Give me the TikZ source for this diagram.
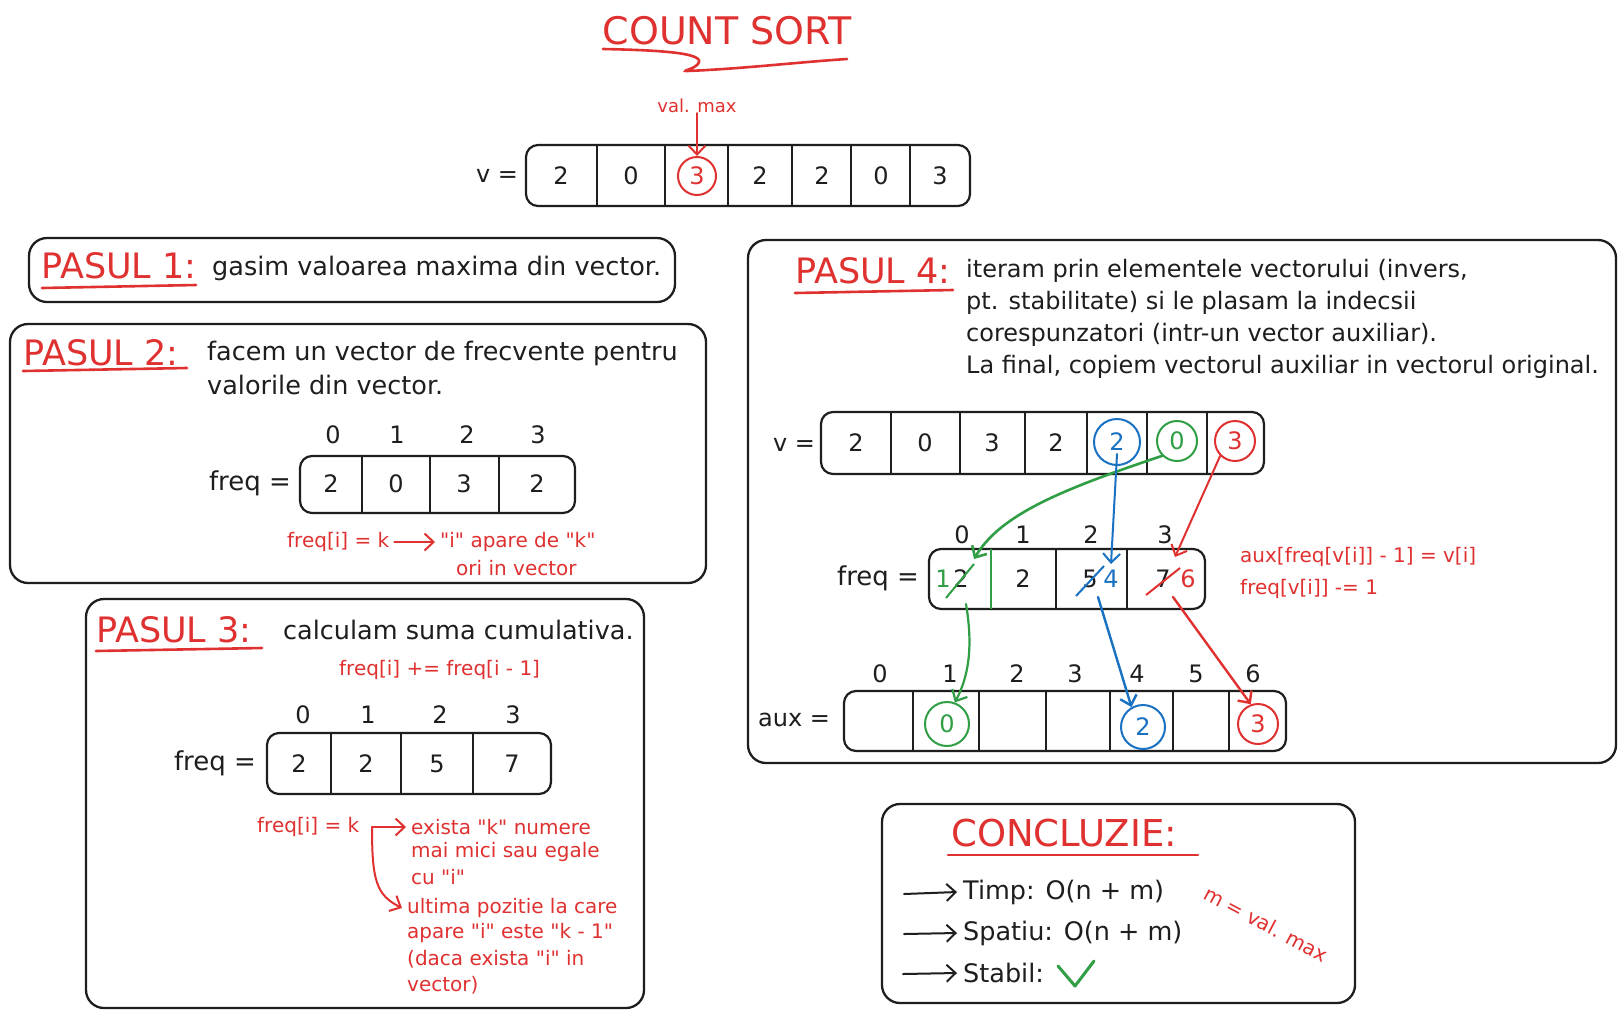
\documentclass[tikz,border=0pt]{standalone}
\usepackage{fontspec}
\setmainfont{DejaVu Sans}
\newfontfamily\hf{DejaVu Sans}
\usetikzlibrary{arrows.meta}
\definecolor{xred}{HTML}{E03131}
\definecolor{xgreen}{HTML}{2F9E44}
\definecolor{xblue}{HTML}{1971C2}
\definecolor{xblack}{HTML}{1E1E1E}
\newcommand{\fs}[1]{\hf\fontsize{#1}{#1}\selectfont}
\tikzset{
 panel/.style={draw=xblack,line width=2.3pt,rounded corners=18pt},
 abox/.style={draw=xblack,line width=2.2pt,rounded corners=12pt},
 dv/.style={draw=xblack,line width=2pt},
 cell/.style={inner sep=0pt,text=xblack,font=\fs{24}},
 lbl/.style={inner sep=0pt,text=xblack,font=\fs{24}},
 hdr/.style={inner sep=0pt,anchor=west,text=xred,font=\fs{35}},
 body/.style={inner sep=0pt,anchor=west,text=xblack,font=\fs{25.5}},
 bodys/.style={inner sep=0pt,anchor=west,text=xblack,font=\fs{24}},
 note/.style={inner sep=0pt,anchor=west,text=xred,font=\fs{20}},
 ring/.style={circle,draw=#1,line width=2pt,minimum size=42pt,inner sep=0pt,text=#1,font=\fs{24}},
 uline/.style={draw=xred,line width=2.6pt,line cap=round},
 arw/.style={line width=2pt,line cap=round,-{Straight Barb[length=9pt,width=17pt]}},
}
\begin{document}
\begin{tikzpicture}[x=1pt,y=-1pt]
\fill[white] (0,0) rectangle (1624,1018);
\useasboundingbox (0,0) rectangle (1624,1018);

% ---------- title ----------
\node[inner sep=0pt,text=xred,font=\fs{38}] (title) at (727,31) {COUNT SORT};
\draw[uline] (603,49) .. controls (650,50) and (702,52) .. (699,62) .. controls (697,69) and (680,71) .. (687,71) .. controls (740,69) and (800,62) .. (847,59);

% ---------- top vector ----------
\node[note,anchor=center,font=\fs{18}] (vmax) at (697,106) {val. max};
\draw[abox] (526,145) rectangle (970,206);
\foreach \x in {597,665,728,792,851,910} \draw[dv] (\x,145) -- (\x,206);
\node[lbl] (tv) at (497,176) {v =};
\node[cell] (t0) at (561,176) {2};
\node[cell] (t1) at (631,176) {0};
\node[ring=xred,minimum size=38pt] (t2) at (697,176) {3};
\node[cell] (t3) at (760,176) {2};
\node[cell] (t4) at (822,176) {2};
\node[cell] (t5) at (881,176) {0};
\node[cell] (t6) at (940,176) {3};
\draw[arw,xred] (vmax) -- (t2);

% ---------- PASUL 1 ----------
\draw[panel] (29,238) rectangle (675,302);
\node[hdr] (p1) at (41,266) {PASUL 1:};
\draw[uline] (42,288) -- (196,285);
\node[body] (p1t) at (212,268) {gasim valoarea maxima din vector.};

% ---------- PASUL 2 ----------
\draw[panel] (10,324) rectangle (706,583);
\node[hdr] (p2) at (23,353) {PASUL 2:};
\draw[uline] (23,371) -- (187,368);
\node[body] (p2a) at (207,353) {facem un vector de frecvente pentru};
\node[body] (p2b) at (207,385) {valorile din vector.};
\node[lbl] (i20) at (333,435) {0};
\node[lbl] (i21) at (397,435) {1};
\node[lbl] (i22) at (467,435) {2};
\node[lbl] (i23) at (538,435) {3};
\draw[abox] (300,456) rectangle (575,513);
\foreach \x in {362,430,499} \draw[dv] (\x,456) -- (\x,513);
\node[lbl,font=\fs{26}] (fq2) at (250,483) {freq =};
\node[cell] (c20) at (331,484) {2};
\node[cell] (c21) at (396,484) {0};
\node[cell] (c22) at (464,484) {3};
\node[cell] (c23) at (537,484) {2};
\node[note] (n21) at (287,542) {freq[i] = k};
\node[note] (n22) at (440,542) {"i" apare de "k"};
\node[note] (n23) at (456,568) {ori in vector};
\draw[arw,xred] ([xshift=5pt]n21.east) -- ([xshift=-5pt]n22.west);

% ---------- PASUL 3 ----------
\draw[panel] (86,599) rectangle (644,1008);
\node[hdr] (p3) at (96,630) {PASUL 3:};
\draw[uline] (96,651) -- (262,648);
\node[body] (p3t) at (283,630) {calculam suma cumulativa.};
\node[note] (n30) at (339,670) {freq[i] += freq[i - 1]};
\node[lbl] (i30) at (303,715) {0};
\node[lbl] (i31) at (368,715) {1};
\node[lbl] (i32) at (440,715) {2};
\node[lbl] (i33) at (513,715) {3};
\draw[abox] (267,733) rectangle (551,794);
\foreach \x in {331,401,473} \draw[dv] (\x,733) -- (\x,794);
\node[lbl,font=\fs{26}] (fq3) at (215,763) {freq =};
\node[cell] (c30) at (299,764) {2};
\node[cell] (c31) at (366,764) {2};
\node[cell] (c32) at (437,764) {5};
\node[cell] (c33) at (512,764) {7};
\node[note] (n31) at (257,827) {freq[i] = k};
\node[note] (e1) at (411,827) {exista "k" numere};
\node[note] (e2) at (411,852) {mai mici sau egale};
\node[note] (e3) at (411,877) {cu "i"};
\node[note] (u1) at (407,908) {ultima pozitie la care};
\node[note] (u2) at (407,933) {apare "i" este "k - 1"};
\node[note] (u3) at (407,959) {(daca exista "i" in};
\node[note] (u4) at (407,985) {vector)};
\coordinate (elb) at (372,827);
\draw[arw,xred] (elb) -- ([xshift=-5pt]e1.west);
\draw[arw,xred] (elb) .. controls (372,880) and (376,895) .. ([xshift=-5pt]u1.west);

% ---------- PASUL 4 ----------
\draw[panel] (748,240) rectangle (1616,763);
\node[hdr] (p4) at (795,271) {PASUL 4:};
\draw[uline] (795,293) -- (953,290);
\node[bodys] (p4a) at (966,271) {iteram prin elementele vectorului (invers,};
\node[bodys] (p4b) at (966,303) {pt. stabilitate) si le plasam la indecsii};
\node[bodys] (p4c) at (966,335) {corespunzatori (intr-un vector auxiliar).};
\node[bodys] (p4d) at (966,367) {La final, copiem vectorul auxiliar in vectorul original.};

% v
\draw[abox] (821,412) rectangle (1264,474);
\foreach \x in {891,960,1025,1087,1147,1207} \draw[dv] (\x,412) -- (\x,474);
\node[lbl] (v4l) at (794,445) {v =};
\node[cell] (v0) at (856,443) {2};
\node[cell] (v1) at (925,443) {0};
\node[cell] (v2) at (992,443) {3};
\node[cell] (v3) at (1056,443) {2};
\node[ring=xblue,minimum size=46pt] (vb) at (1117,442) {2};
\node[ring=xgreen,minimum size=40pt] (vg) at (1177,441) {0};
\node[ring=xred,minimum size=40pt] (vr) at (1235,441) {3};

% freq
\node[lbl] (i40) at (962,535) {0};
\node[lbl] (i41) at (1023,535) {1};
\node[lbl] (i42) at (1091,535) {2};
\node[lbl] (i43) at (1165,535) {3};
\draw[abox] (929,549) rectangle (1205,609);
\draw[dv,draw=xgreen] (991,549) -- (991,609);
\foreach \x in {1056,1127} \draw[dv] (\x,549) -- (\x,609);
\node[lbl,font=\fs{26}] (fq4) at (878,578) {freq =};
\node[cell,text=xgreen] (f0n) at (943,579) {1};
\node[cell] (f0o) at (961,579) {2};
\node[cell] (f1) at (1023,579) {2};
\node[cell] (f2o) at (1090,579) {5};
\node[cell,text=xblue] (f2n) at (1111,579) {4};
\node[cell] (f3o) at (1163,579) {7};
\node[cell,text=xred] (f3n) at (1188,579) {6};
\draw[xgreen,line width=2pt] (946,598) -- (974,564);
\draw[xblue,line width=2pt] (1076,596) -- (1104,566);
\draw[xred,line width=2pt] (1146,595) -- (1180,568);
\node[note] (n41) at (1240,557) {aux[freq[v[i]] - 1] = v[i]};
\node[note] (n42) at (1240,589) {freq[v[i]] -= 1};

% aux
\node[lbl] (a0i) at (880,674) {0};
\node[lbl] (a1i) at (950,674) {1};
\node[lbl] (a2i) at (1017,674) {2};
\node[lbl] (a3i) at (1075,674) {3};
\node[lbl] (a4i) at (1137,674) {4};
\node[lbl] (a5i) at (1196,674) {5};
\node[lbl] (a6i) at (1253,674) {6};
\draw[abox] (844,691) rectangle (1286,751);
\foreach \x in {913,979,1046,1110,1173,1229} \draw[dv] (\x,691) -- (\x,751);
\node[lbl] (auxl) at (794,720) {aux =};
\node[ring=xgreen,minimum size=44pt] (ag) at (947,724) {0};
\node[ring=xblue,minimum size=44pt] (ab) at (1143,727) {2};
\node[ring=xred,minimum size=40pt] (ar) at (1258,724) {3};

% arrows
\coordinate (g1e) at (974,559);
\coordinate (g2s) at (966,604);
\coordinate (b1e) at (1111,564);
\coordinate (b2s) at (1098,597);
\coordinate (r1e) at (1175,557);
\coordinate (r2s) at (1173,597);
\draw[arw,xgreen,line width=2.6pt] (vg.south west) .. controls (1060,490) and (1000,515) .. (g1e);
\draw[arw,xgreen,line width=2.2pt] (g2s) .. controls (972,640) and (971,672) .. (ag.70);
\draw[arw,xblue] ([yshift=-12pt]vb.center) -- (b1e);
\draw[arw,xblue,line width=2.4pt] (b2s) -- (ab.120);
\draw[arw,xred] (vr.south west) -- (r1e);
\draw[arw,xred,line width=2.4pt] (r2s) -- (ar.110);

% ---------- CONCLUZIE ----------
\draw[panel] (882,804) rectangle (1355,1003);
\node[hdr,font=\fs{37}] (cz) at (951,833) {CONCLUZIE:};
\draw[uline] (948,855) -- (1198,855);
\node[body] (k1) at (963,892) {Timp: O(n + m)};
\node[body] (k2) at (963,933) {Spatiu: O(n + m)};
\node[body] (k3) at (963,973) {Stabil:};
\coordinate (a1) at (904,894);
\coordinate (a2) at (904,934);
\coordinate (a3) at (903,974);
\draw[arw,xblack] (a1) -- ([xshift=-6pt]k1.west);
\draw[arw,xblack] (a2) -- ([xshift=-6pt]k2.west);
\draw[arw,xblack] (a3) -- ([xshift=-6pt]k3.west);
\draw[xgreen,line width=3pt,line cap=round,line join=round] (1058,966) -- (1075,986) -- (1094,961);
\node[note,anchor=center,rotate=-28,font=\fs{20}] (mv) at (1266,924) {m = val. max};
\end{tikzpicture}
\end{document}
